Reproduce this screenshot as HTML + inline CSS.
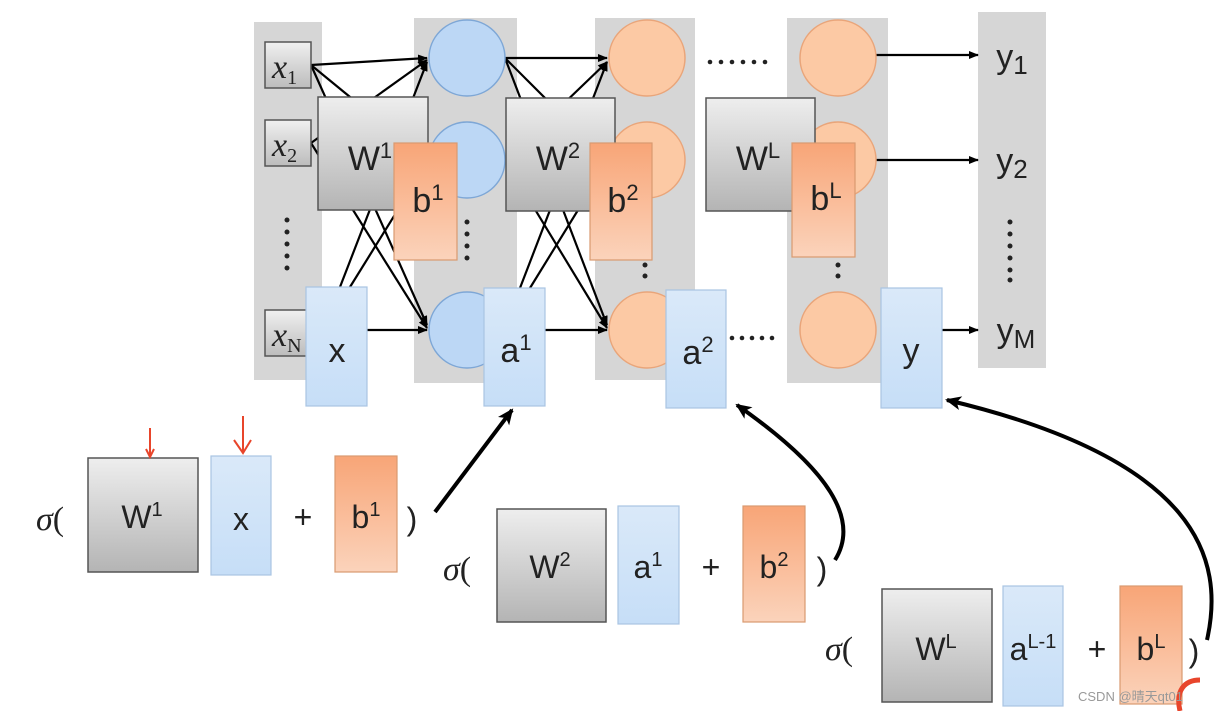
<!DOCTYPE html>
<html><head><meta charset="utf-8"><style>
html,body{margin:0;padding:0;background:#fff;}
svg{display:block;font-family:"Liberation Sans",sans-serif;}
</style></head><body>
<svg width="1214" height="711" viewBox="0 0 1214 711" xmlns="http://www.w3.org/2000/svg">
<defs>
<linearGradient id="gW" x1="0" y1="0" x2="0" y2="1"><stop offset="0" stop-color="#eeeeee"/><stop offset="1" stop-color="#b4b4b4"/></linearGradient>
<linearGradient id="gB" x1="0" y1="0" x2="0" y2="1"><stop offset="0" stop-color="#f8a577"/><stop offset="1" stop-color="#fbd3bb"/></linearGradient>
<linearGradient id="gA" x1="0" y1="0" x2="0" y2="1"><stop offset="0" stop-color="#dae9f9"/><stop offset="1" stop-color="#c6def7"/></linearGradient>
<linearGradient id="gX" x1="0" y1="0" x2="0" y2="1"><stop offset="0" stop-color="#f0f0f0"/><stop offset="1" stop-color="#bcbcbc"/></linearGradient>
<marker id="ar" markerWidth="10" markerHeight="10" refX="9" refY="5" orient="auto" markerUnits="userSpaceOnUse"><path d="M0,1 L10,5 L0,9 z" fill="#000"/></marker>
<marker id="ar2" markerWidth="18" markerHeight="18" refX="14" refY="9" orient="auto" markerUnits="userSpaceOnUse"><path d="M0,2 L16,9 L0,16 L4,9 z" fill="#000"/></marker>
</defs>
<rect width="1214" height="711" fill="#fff"/>
<!-- panels -->
<g fill="#d6d6d6">
<rect x="254" y="22" width="68" height="358"/>
<rect x="414" y="18" width="103" height="365"/>
<rect x="595" y="18" width="100" height="362"/>
<rect x="787" y="18" width="101" height="365"/>
<rect x="978" y="12" width="68" height="356"/>
</g>
<!-- connections -->
<g stroke="#000" stroke-width="2.2" fill="none" marker-end="url(#ar)">
<line x1="311" y1="65" x2="427" y2="58"/>
<line x1="311" y1="65" x2="427" y2="160"/>
<line x1="311" y1="65" x2="427" y2="325"/>
<line x1="311" y1="143" x2="427" y2="60"/>
<line x1="311" y1="143" x2="427" y2="328"/>
<line x1="340" y1="287" x2="427" y2="62"/>
<line x1="350" y1="287" x2="427" y2="163"/>
<line x1="367" y1="330" x2="427" y2="330"/>
<line x1="505" y1="58" x2="607" y2="58"/>
<line x1="505" y1="58" x2="607" y2="160"/>
<line x1="505" y1="58" x2="607" y2="325"/>
<line x1="505" y1="160" x2="607" y2="62"/>
<line x1="505" y1="160" x2="607" y2="328"/>
<line x1="520" y1="288" x2="607" y2="62"/>
<line x1="530" y1="288" x2="607" y2="163"/>
<line x1="545" y1="330" x2="607" y2="330"/>
<line x1="876" y1="55" x2="978" y2="55"/>
<line x1="876" y1="160" x2="978" y2="160"/>
<line x1="942" y1="330" x2="978" y2="330"/>
</g>
<!-- inputs -->
<g fill="url(#gX)" stroke="#555" stroke-width="1.5">
<rect x="265" y="42" width="46" height="46"/>
<rect x="265" y="120" width="46" height="46"/>
<rect x="265" y="310" width="46" height="46"/>
</g>
<g font-family="Liberation Serif,serif" font-style="italic" font-size="34" fill="#222">
<text x="272" y="78">x<tspan font-size="20" font-style="normal" dy="6">1</tspan></text>
<text x="272" y="156">x<tspan font-size="20" font-style="normal" dy="6">2</tspan></text>
<text x="272" y="346">x<tspan font-size="20" font-style="normal" dy="6">N</tspan></text>
</g>
<!-- circles -->
<g fill="#bcd7f5" stroke="#7ea7d6" stroke-width="1.5">
<circle cx="467" cy="58" r="38"/><circle cx="467" cy="160" r="38"/><circle cx="467" cy="330" r="38"/>
</g>
<g fill="#fcc9a4" stroke="#e9a57a" stroke-width="1.5">
<circle cx="647" cy="58" r="38"/><circle cx="647" cy="160" r="38"/><circle cx="647" cy="330" r="38"/>
<circle cx="838" cy="58" r="38"/><circle cx="838" cy="160" r="38"/><circle cx="838" cy="330" r="38"/>
</g>
<!-- dots -->
<g fill="#222">
<circle cx="287" cy="220" r="2.5"/><circle cx="287" cy="232" r="2.5"/><circle cx="287" cy="244" r="2.5"/><circle cx="287" cy="256" r="2.5"/><circle cx="287" cy="268" r="2.5"/>
<circle cx="467" cy="222" r="2.5"/><circle cx="467" cy="234" r="2.5"/><circle cx="467" cy="246" r="2.5"/><circle cx="467" cy="258" r="2.5"/>
<circle cx="645" cy="265" r="2.5"/><circle cx="645" cy="276" r="2.5"/>
<circle cx="838" cy="265" r="2.5"/><circle cx="838" cy="276" r="2.5"/>
<circle cx="1010" cy="222" r="2.5"/><circle cx="1010" cy="234" r="2.5"/><circle cx="1010" cy="246" r="2.5"/><circle cx="1010" cy="258" r="2.5"/><circle cx="1010" cy="270" r="2.5"/><circle cx="1010" cy="280" r="2.5"/>
<circle cx="710" cy="62" r="2.3"/><circle cx="721" cy="62" r="2.3"/><circle cx="732" cy="62" r="2.3"/><circle cx="743" cy="62" r="2.3"/><circle cx="754" cy="62" r="2.3"/><circle cx="765" cy="62" r="2.3"/>
<circle cx="732" cy="338" r="2.3"/><circle cx="742" cy="338" r="2.3"/><circle cx="752" cy="338" r="2.3"/><circle cx="762" cy="338" r="2.3"/><circle cx="772" cy="338" r="2.3"/>
</g>
<!-- matrices top -->
<g stroke="#555" stroke-width="1.5">
<rect x="318" y="97" width="110" height="113" fill="url(#gW)"/>
<rect x="506" y="98" width="109" height="113" fill="url(#gW)"/>
<rect x="706" y="98" width="109" height="113" fill="url(#gW)"/>
</g>
<g stroke="#d99a70" stroke-width="1.2" fill="url(#gB)">
<rect x="394" y="143" width="63" height="117"/>
<rect x="590" y="143" width="62" height="117"/>
<rect x="792" y="143" width="63" height="114"/>
</g>
<g stroke="#a9c4e2" stroke-width="1.2" fill="url(#gA)">
<rect x="306" y="287" width="61" height="119"/>
<rect x="484" y="288" width="61" height="118"/>
<rect x="666" y="290" width="60" height="118"/>
<rect x="881" y="288" width="61" height="120"/>
</g>
<g font-size="34" fill="#222" text-anchor="middle">
<text x="370" y="170">W<tspan font-size="22" dy="-12">1</tspan></text>
<text x="558" y="170">W<tspan font-size="22" dy="-12">2</tspan></text>
<text x="758" y="170">W<tspan font-size="22" dy="-12">L</tspan></text>
<text x="428" y="212">b<tspan font-size="22" dy="-12">1</tspan></text>
<text x="623" y="212">b<tspan font-size="22" dy="-12">2</tspan></text>
<text x="826" y="210">b<tspan font-size="22" dy="-12">L</tspan></text>
<text x="337" y="362">x</text>
<text x="516" y="362">a<tspan font-size="22" dy="-12">1</tspan></text>
<text x="698" y="364">a<tspan font-size="22" dy="-12">2</tspan></text>
<text x="911" y="362">y</text>
<text x="1012" y="68">y<tspan font-size="26" dy="6">1</tspan></text>
<text x="1012" y="172">y<tspan font-size="26" dy="6">2</tspan></text>
<text x="1016" y="342">y<tspan font-size="26" dy="6">M</tspan></text>
</g>
<!-- bottom formulas -->
<g stroke="#555" stroke-width="1.5" fill="url(#gW)">
<rect x="88" y="458" width="110" height="114"/>
<rect x="497" y="509" width="109" height="113"/>
<rect x="882" y="589" width="110" height="113"/>
</g>
<g stroke="#d99a70" stroke-width="1.2" fill="url(#gB)">
<rect x="335" y="456" width="62" height="116"/>
<rect x="743" y="506" width="62" height="116"/>
<rect x="1120" y="586" width="62" height="118"/>
</g>
<g stroke="#a9c4e2" stroke-width="1.2" fill="url(#gA)">
<rect x="211" y="456" width="60" height="119"/>
<rect x="618" y="506" width="61" height="118"/>
<rect x="1003" y="586" width="60" height="120"/>
</g>
<g font-size="32" fill="#222" text-anchor="middle">
<text x="142" y="528">W<tspan font-size="20" dy="-12">1</tspan></text>
<text x="241" y="530">x</text>
<text x="303" y="528">+</text>
<text x="366" y="528">b<tspan font-size="20" dy="-12">1</tspan></text>
<text x="412" y="530">)</text>
<text x="550" y="578">W<tspan font-size="20" dy="-12">2</tspan></text>
<text x="648" y="578">a<tspan font-size="20" dy="-12">1</tspan></text>
<text x="711" y="578">+</text>
<text x="774" y="578">b<tspan font-size="20" dy="-12">2</tspan></text>
<text x="822" y="580">)</text>
<text x="936" y="660">W<tspan font-size="20" dy="-12">L</tspan></text>
<text x="1033" y="660">a<tspan font-size="20" dy="-12">L-1</tspan></text>
<text x="1097" y="660">+</text>
<text x="1151" y="660">b<tspan font-size="20" dy="-12">L</tspan></text>
<text x="1194" y="662">)</text>
</g>
<g font-family="Liberation Serif,serif" font-size="34" fill="#222">
<text x="36" y="530"><tspan font-style="italic">σ</tspan>(</text>
<text x="443" y="580"><tspan font-style="italic">σ</tspan>(</text>
<text x="825" y="660"><tspan font-style="italic">σ</tspan>(</text>
</g>
<!-- red arrows -->
<g stroke="#e8452b" stroke-width="2" fill="none">
<line x1="150" y1="428" x2="150" y2="457"/><path d="M146,449 L150,457 L154,449"/>
<line x1="243" y1="416" x2="243" y2="453"/><path d="M234,440 L243,453 L251,440"/>
<path d="M1180,711 C1175,690 1185,680 1200,680" stroke-width="5"/>
</g>
<!-- black big arrows -->
<g stroke="#000" stroke-width="4" fill="none" marker-end="url(#ar2)">
<line x1="435" y1="512" x2="512" y2="410"/>
<path d="M835,560 C860,520 830,470 737,405"/>
<path d="M1207,640 C1225,560 1200,460 947,400"/>
</g>
<text x="1078" y="701" font-size="13" fill="#999" font-family="Liberation Sans,'Noto Sans CJK SC',sans-serif">CSDN @晴天qt01</text>
</svg>
</body></html>
